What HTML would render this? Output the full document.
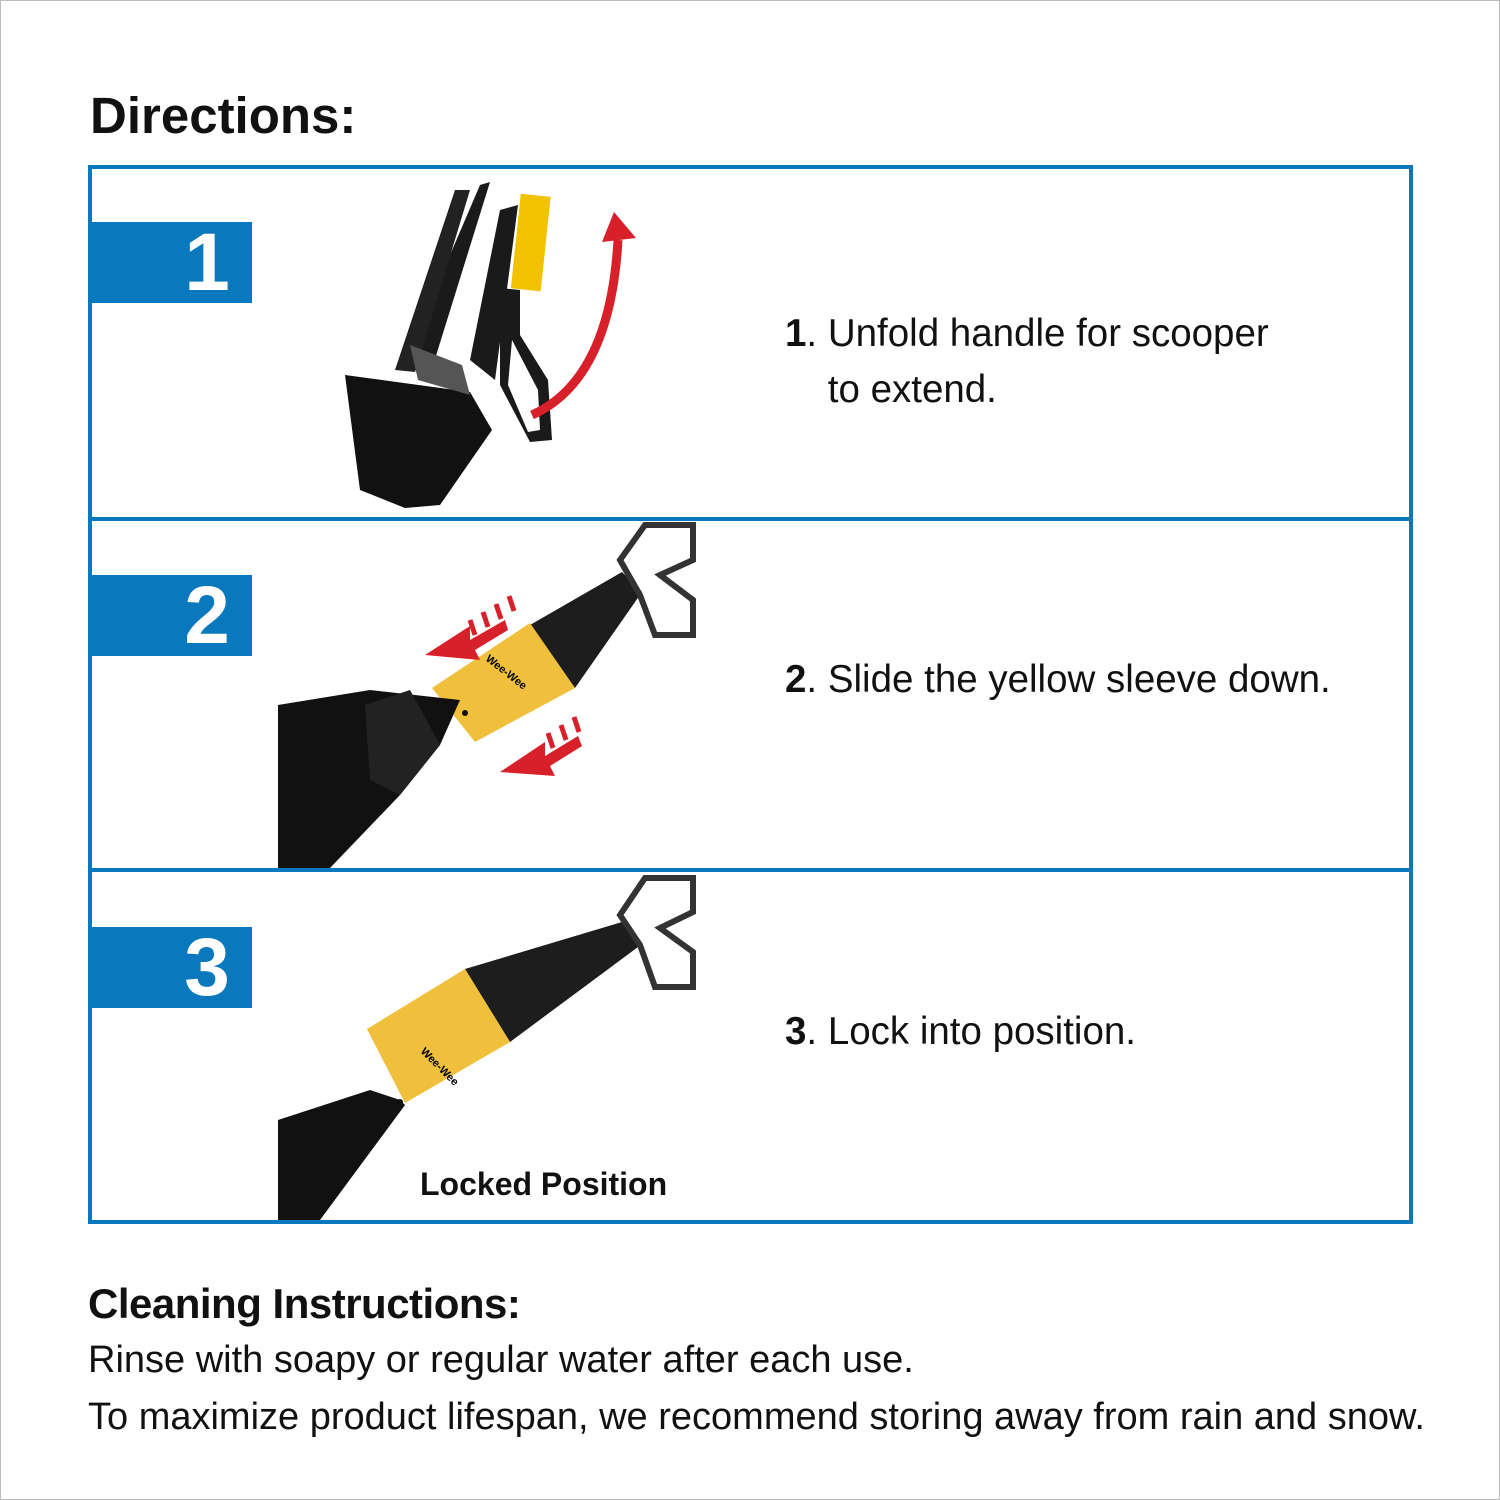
<!DOCTYPE html>
<html><head><meta charset="utf-8"><style>
body{margin:0;width:1500px;height:1500px;background:#fff;position:relative;overflow:hidden;font-family:"Liberation Sans",Arial,sans-serif;color:#111}
.t{position:absolute;white-space:nowrap}
.tab{position:absolute;left:92px;width:160px;height:81px;background:#0a78bd;color:#fff;font-weight:bold;font-size:82px;line-height:81px;text-align:center;padding-left:0}
</style></head><body>
<div style="position:absolute;left:0;top:0;width:1498px;height:1498px;border:1px solid #bbb"></div>
<div class="t" style="left:90px;top:86px;font-size:51px;font-weight:bold;letter-spacing:0px">Directions:</div>
<div style="position:absolute;left:88px;top:165px;width:1317px;height:1051px;border:4px solid #0a78bd"></div>
<div style="position:absolute;left:88px;top:517px;width:1325px;height:4px;background:#0a78bd"></div>
<div style="position:absolute;left:88px;top:868px;width:1325px;height:4px;background:#0a78bd"></div>
<div class="tab" style="top:222px;padding-left:70px;width:90px">1</div>
<div class="tab" style="top:575px;padding-left:70px;width:90px">2</div>
<div class="tab" style="top:927px;padding-left:70px;width:90px">3</div>
<svg style="position:absolute;left:0;top:0" width="1500" height="1500">
<path d="M345 375 L470 392 L492 430 L440 505 L405 508 L360 490 Z" fill="#111"/>
<path d="M405 360 L480 185 L490 182 L430 375 Z" fill="#1a1a1a"/>
<path d="M395 370 L455 190 L470 190 L415 372 Z" fill="#222"/>
<path d="M410 345 L462 365 L470 395 L418 380 Z" fill="#555"/>
<path d="M470 360 L500 210 L518 205 L495 380 Z" fill="#1a1a1a"/>
<rect x="516" y="195" width="30" height="95" fill="#f2c200" transform="rotate(6 530 240)"/>
<path d="M500 288 L520 290 L520 335 L548 380 L552 440 L530 442 L500 385 Z" fill="#1a1a1a"/>
<path d="M512 340 L538 390 L540 430 L528 432 L508 385 Z" fill="#fff"/>
<path d="M532 415 Q610 380 618 240" fill="none" stroke="#d8202a" stroke-width="9"/>
<polygon points="602,242 636,238 614,212" fill="#d8202a"/>
<polygon points="530,625 622,572 642,592 575,688" fill="#1d1d1d"/>
<path d="M620 560 L645 525 L693 525 L693 560 L660 575 L693 600 L693 635 L655 635 L640 595 Z" fill="none" stroke="#333" stroke-width="6"/>
<polygon points="432,688 530,623 575,688 475,742" fill="#f0bf3c"/>
<circle cx="465" cy="713" r="3" fill="#111"/>
<text x="485" y="660" font-size="11" font-weight="bold" transform="rotate(38 485 660)">Wee-Wee</text>
<polygon points="278,705 370,690 460,700 440,745 400,795 330,868 278,868" fill="#111"/>
<polygon points="365,705 410,690 440,745 400,795 370,780" fill="#222"/>
<path d="M425 655 L470 626 L470 640 L505 620 L508 630 L475 650 L480 660 Z" fill="#d8202a"/>
<path d="M500 772 L545 742 L545 756 L578 736 L582 746 L550 766 L555 776 Z" fill="#d8202a"/>
<g stroke="#d8202a" stroke-width="5"><line x1="470" y1="620" x2="475" y2="635"/><line x1="483" y1="612" x2="488" y2="627"/><line x1="496" y1="604" x2="501" y2="619"/><line x1="509" y1="596" x2="514" y2="611"/>
<line x1="548" y1="733" x2="553" y2="748"/><line x1="561" y1="725" x2="566" y2="740"/><line x1="574" y1="717" x2="579" y2="732"/></g>
<polygon points="465,969 622,922 642,944 510,1042" fill="#1d1d1d"/>
<path d="M620 915 L645 878 L693 878 L693 912 L660 928 L693 952 L693 987 L655 987 L640 945 Z" fill="none" stroke="#333" stroke-width="6"/>
<polygon points="367,1029 465,969 510,1042 405,1103" fill="#f0bf3c"/>
<circle cx="400" cy="1102" r="3" fill="#111"/>
<text x="420" y="1052" font-size="11" font-weight="bold" transform="rotate(45 420 1052)">Wee-Wee</text>
<polygon points="278,1120 370,1090 400,1100 405,1105 320,1220 278,1220" fill="#111"/>
</svg>
<div class="t" style="left:420px;top:1166px;font-size:32px;font-weight:bold">Locked Position</div>
<div class="t" style="left:785px;top:306px;font-size:38.5px;line-height:56px"><b>1</b>. Unfold handle for scooper<br>&nbsp;&nbsp;&nbsp;&nbsp;to extend.</div>
<div class="t" style="left:785px;top:658px;font-size:38.5px"><b>2</b>. Slide the yellow sleeve down.</div>
<div class="t" style="left:785px;top:1010px;font-size:38.5px"><b>3</b>. Lock into position.</div>
<div class="t" style="left:88px;top:1280px;font-size:42px;font-weight:bold;letter-spacing:-0.5px">Cleaning Instructions:</div>
<div class="t" style="left:88px;top:1339px;font-size:38px">Rinse with soapy or regular water after each use.</div>
<div class="t" style="left:88px;top:1396px;font-size:38px">To maximize product lifespan, we recommend storing away from rain and snow.</div>
</body></html>
